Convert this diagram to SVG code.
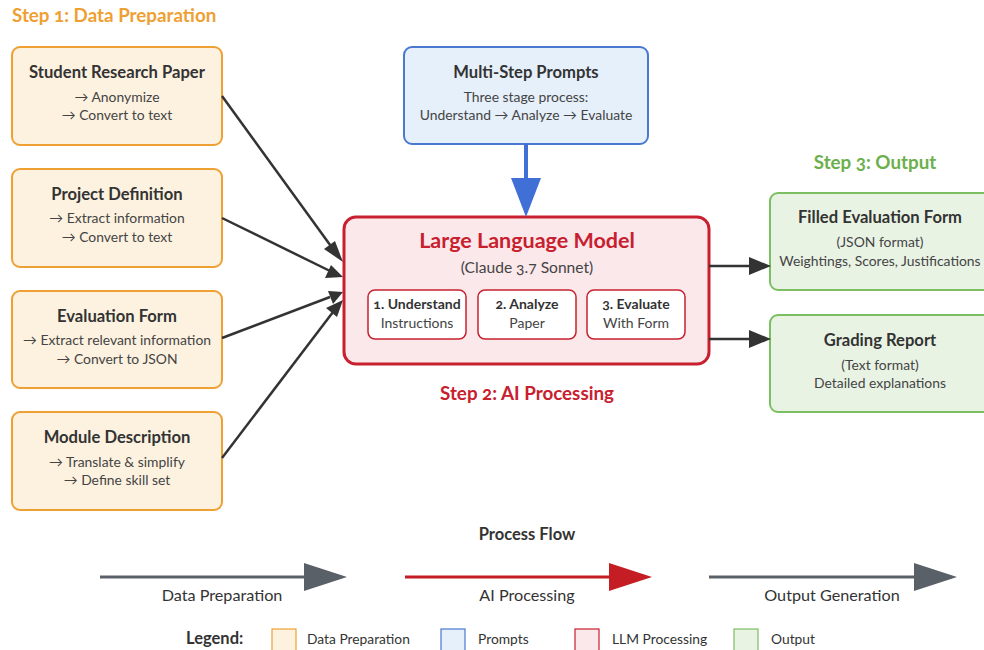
<svg xmlns="http://www.w3.org/2000/svg" width="984" height="650" viewBox="0 0 984 650">
  <defs>
    <style>
      text { font-family: Lato, "Open Sans", "Noto Sans", sans-serif; text-anchor: middle; font-variant-numeric: oldstyle-nums; }
      .step { font-size: 18.8px; font-weight: bold; }
      .title { font-size: 16.6px; font-weight: bold; fill: #333; }
      .sub { font-size: 13.9px; fill: #444; }
      .prep { fill: #FDF2E0; stroke: #EFA032; stroke-width: 2; }
      .prompt { fill: #E6F0FA; stroke: #4A78D0; stroke-width: 2; }
      .llm { fill: #FBE8EB; stroke: #C8202E; stroke-width: 3; }
      .inner { fill: #FFFFFF; stroke: #C8202E; stroke-width: 1.5; }
      .out { fill: #E9F3E4; stroke: #7CBF62; stroke-width: 2; }
      .conn { stroke: #333; stroke-width: 2.5; fill: none; }
      .head { fill: #333; }
      .stage-t { font-size: 14px; font-weight: bold; fill: #333; }
      .stage-s { font-size: 14px; fill: #444; }
      .flowlabel { font-size: 16.2px; fill: #333; }
      .legend { font-size: 13.8px; fill: #333; text-anchor: start; }
    </style>
  </defs>

  <rect width="984" height="650" fill="#FFFFFF"/>

  <!-- section headings -->
  <text class="step" x="12" y="22" fill="#EFA032" style="text-anchor:start">Step 1: Data Preparation</text>
  <text class="step" x="875" y="169" fill="#6CB04C">Step 3: Output</text>
  <text class="step" x="527" y="400" fill="#C8202E">Step 2: AI Processing</text>

  <!-- input nodes -->
  <g id="student-paper">
    <rect class="prep" x="12" y="47" width="210" height="98" rx="8"/>
    <text class="title" x="117" y="78">Student Research Paper</text>
    <text class="sub" x="117" y="102">→ Anonymize</text>
    <text class="sub" x="117" y="120">→ Convert to text</text>
  </g>
  <g id="project-definition">
    <rect class="prep" x="12" y="169" width="210" height="98" rx="8"/>
    <text class="title" x="117" y="200">Project Definition</text>
    <text class="sub" x="117" y="223">→ Extract information</text>
    <text class="sub" x="117" y="242">→ Convert to text</text>
  </g>
  <g id="evaluation-form">
    <rect class="prep" x="12" y="291" width="210" height="97" rx="8"/>
    <text class="title" x="117" y="322">Evaluation Form</text>
    <text class="sub" x="117" y="345">→ Extract relevant information</text>
    <text class="sub" x="117" y="364">→ Convert to JSON</text>
  </g>
  <g id="module-description">
    <rect class="prep" x="12" y="412" width="210" height="98" rx="8"/>
    <text class="title" x="117" y="443">Module Description</text>
    <text class="sub" x="117" y="467">→ Translate &amp; simplify</text>
    <text class="sub" x="117" y="485">→ Define skill set</text>
  </g>

  <!-- prompts node -->
  <g id="multi-step-prompts">
    <rect class="prompt" x="404" y="47" width="244" height="97" rx="8"/>
    <text class="title" x="526" y="78">Multi-Step Prompts</text>
    <text class="sub" x="526" y="102">Three stage process:</text>
    <text class="sub" x="526" y="120">Understand → Analyze → Evaluate</text>
  </g>

  <!-- LLM node -->
  <g id="llm">
    <rect class="llm" x="344" y="217" width="365" height="147" rx="12"/>
    <text x="527" y="248" style="font-size:21.5px;font-weight:bold;fill:#C8202E">Large Language Model</text>
    <text x="527" y="273" style="font-size:15.6px;fill:#444">(Claude 3.7 Sonnet)</text>
    <g id="stage-understand">
      <rect class="inner" x="368" y="290" width="98" height="49" rx="7"/>
      <text class="stage-t" x="417" y="309">1. Understand</text>
      <text class="stage-s" x="417" y="328">Instructions</text>
    </g>
    <g id="stage-analyze">
      <rect class="inner" x="478" y="290" width="98" height="49" rx="7"/>
      <text class="stage-t" x="527" y="309">2. Analyze</text>
      <text class="stage-s" x="527" y="328">Paper</text>
    </g>
    <g id="stage-evaluate">
      <rect class="inner" x="587" y="290" width="98" height="49" rx="7"/>
      <text class="stage-t" x="636" y="309">3. Evaluate</text>
      <text class="stage-s" x="636" y="328">With Form</text>
    </g>
  </g>

  <!-- output nodes -->
  <g id="filled-form">
    <rect class="out" x="770" y="193" width="222" height="97" rx="8"/>
    <text class="title" x="880" y="223">Filled Evaluation Form</text>
    <text class="sub" x="880" y="247">(JSON format)</text>
    <text class="sub" x="880" y="266">Weightings, Scores, Justifications</text>
  </g>
  <g id="grading-report">
    <rect class="out" x="770" y="315" width="222" height="97" rx="8"/>
    <text class="title" x="880" y="346">Grading Report</text>
    <text class="sub" x="880" y="370">(Text format)</text>
    <text class="sub" x="880" y="388">Detailed explanations</text>
  </g>

  <!-- connectors -->
  <g id="connectors">
    <path class="conn" d="M222,96 L333,249"/>
    <path class="head" d="M343,262 L324,249 L335,241 Z"/>
    <path class="conn" d="M222,218 L330,271"/>
    <path class="head" d="M343,277 L325,278 L331,265 Z"/>
    <path class="conn" d="M222,338 L330,297"/>
    <path class="head" d="M343,292 L333,304 L328,291 Z"/>
    <path class="conn" d="M222,458 L333,312"/>
    <path class="head" d="M343,300 L337,317 L326,308 Z"/>

    <path d="M526,144 L526,180" stroke="#4070D6" stroke-width="4" fill="none"/>
    <path d="M511,178 L541,178 L526,217 Z" fill="#4070D6"/>

    <path class="conn" d="M709,266 L752,266"/>
    <path class="head" d="M771,266 L749,257 L749,275 Z"/>
    <path class="conn" d="M709,339 L752,339"/>
    <path class="head" d="M771,339 L749,330 L749,348 Z"/>
  </g>

  <!-- process flow strip -->
  <g id="process-flow">
    <text x="527" y="540" style="font-size:16.5px;font-weight:bold;fill:#333">Process Flow</text>
    <path d="M100,577 L312,577" stroke="#5A6068" stroke-width="3"/>
    <path d="M304,563 L347,577 L304,591 Z" fill="#5A6068"/>
    <text class="flowlabel" x="222" y="601">Data Preparation</text>
    <path d="M405,577 L617,577" stroke="#C41E24" stroke-width="3"/>
    <path d="M609,563 L652,577 L609,591 Z" fill="#C41E24"/>
    <text class="flowlabel" x="527" y="601">AI Processing</text>
    <path d="M709,577 L922,577" stroke="#5A6068" stroke-width="3"/>
    <path d="M914,563 L957,577 L914,591 Z" fill="#5A6068"/>
    <text class="flowlabel" x="832" y="601">Output Generation</text>
  </g>

  <!-- legend -->
  <g id="legend">
    <text x="186" y="644" style="font-size:16.5px;font-weight:bold;fill:#333;text-anchor:start">Legend:</text>
    <rect x="272" y="629" width="24" height="24" fill="#FDF2E0" stroke="#EFA032" stroke-width="1.2"/>
    <text class="legend" x="307" y="644">Data Preparation</text>
    <rect x="441" y="629" width="24" height="24" fill="#E6F0FA" stroke="#4A78D0" stroke-width="1.2"/>
    <text class="legend" x="478" y="644">Prompts</text>
    <rect x="575" y="629" width="24" height="24" fill="#FBE8EB" stroke="#C8202E" stroke-width="1.2"/>
    <text class="legend" x="612" y="644">LLM Processing</text>
    <rect x="734" y="629" width="24" height="24" fill="#E9F3E4" stroke="#7CBF62" stroke-width="1.2"/>
    <text class="legend" x="771" y="644">Output</text>
  </g>
</svg>
